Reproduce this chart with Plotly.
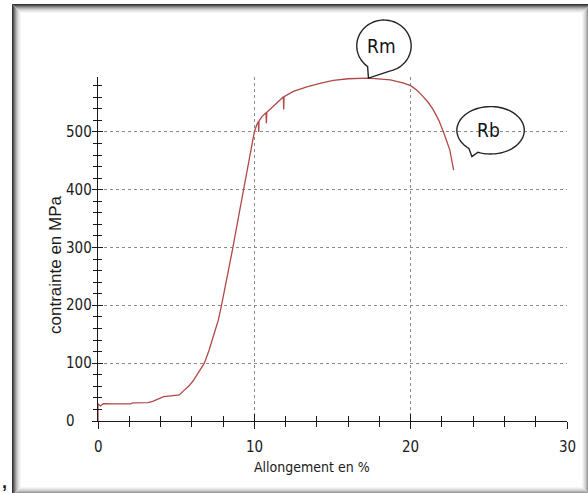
import plotly.graph_objects as go
import numpy as np

# ---- data ----
allongement = [0, 0, 0.15, 0.35, 1.0, 2.1, 2.2, 3.2, 3.5, 3.8, 4.2, 4.8, 5.2, 5.5, 5.8, 6.1,
               6.5, 6.8, 7.1, 7.4, 7.7, 7.9, 8.2, 8.4, 8.6, 8.9, 9.3, 9.5, 9.75, 9.94, 10.0,
               10.15, 10.26, 10.28, 10.3, 10.5, 10.75, 10.77, 10.8, 11.2, 11.5, 11.86, 11.88,
               11.9, 12.5, 13.36, 14.2, 15.05, 16.0, 17.3, 18.7, 19.5, 20.0, 20.4, 20.8,
               21.15, 21.45, 21.8, 22.1, 22.5, 22.75]
contrainte = [0, 30, 26, 30, 29.5, 29.5, 31.5, 31.8, 34, 37, 42, 44, 45, 53, 60, 70,
              86, 100, 122, 148, 175, 200, 240, 267, 296, 340, 400, 430, 463, 489, 500,
              512, 518, 500, 519, 527, 533, 515, 534, 544, 552, 561, 539,
              561, 570, 578, 584, 589, 592, 593, 590, 585, 580, 572, 561,
              550, 538, 520, 500, 469, 434]

x_ticks = [0, 10, 20, 30]
y_ticks = [0, 100, 200, 300, 400, 500]
x_range = [0, 30]
y_range = [0, 595]
x_title = "Allongement en %"
y_title = "contrainte en MPa"
labels = ["Rm", "Rb"]

# ---- layout geometry ----
W, H = 588, 493
L, R, T, B = 98, 21, 77, 72
PW, PH = W - L - R, H - T - B

def px2paper(px, py):
    return (px - L) / PW, (H - B - py) / PH

def data2px(x, y):
    return (L + (x - x_range[0]) / (x_range[1] - x_range[0]) * PW,
            H - B - (y - y_range[0]) / (y_range[1] - y_range[0]) * PH)

NARROW = "Liberation Sans Narrow, DejaVu Sans Condensed, Arial Narrow, sans-serif"
ink = "#1a1a1a"

fig = go.Figure()
fig.add_trace(go.Scatter(x=allongement, y=contrainte, mode="lines",
                         line=dict(color="#b04848", width=1.3),
                         hoverinfo="skip", showlegend=False))
# helper trace for the overlay axes (inside half of the crossing ticks)
fig.add_trace(go.Scatter(x=[None], y=[None], xaxis="x2", yaxis="y2",
                         mode="lines", showlegend=False, hoverinfo="skip"))

axis_common = dict(showline=True, linecolor=ink, linewidth=1, zeroline=False,
                   tickcolor=ink, tickwidth=1, showticklabels=False)

fig.update_layout(
    width=W, height=H,
    margin=dict(l=L, r=R, t=T, b=B),
    paper_bgcolor="white", plot_bgcolor="white",
    xaxis=dict(range=x_range, tickvals=x_ticks, ticks="outside", ticklen=7,
               showgrid=True, gridcolor="#8a8a8a", griddash="dot", gridwidth=1,
               minor=dict(dtick=2, ticks="outside", ticklen=5, tickcolor=ink, showgrid=False),
               **axis_common),
    yaxis=dict(range=y_range, tickvals=y_ticks, ticks="outside", ticklen=5,
               showgrid=True, gridcolor="#8a8a8a", griddash="dot", gridwidth=1,
               minor=dict(dtick=20, ticks="outside", ticklen=4, tickcolor=ink, showgrid=False),
               **axis_common),
    xaxis2=dict(range=x_range, tickvals=x_ticks, ticks="inside", ticklen=7, overlaying="x",
                side="bottom", showgrid=False, showline=False, zeroline=False,
                tickcolor=ink, showticklabels=False,
                minor=dict(dtick=2, ticks="inside", ticklen=5, tickcolor=ink, showgrid=False)),
    yaxis2=dict(range=y_range, tickvals=y_ticks, ticks="inside", ticklen=5, overlaying="y",
                side="left", showgrid=False, showline=False, zeroline=False,
                tickcolor=ink, showticklabels=False,
                minor=dict(dtick=20, ticks="inside", ticklen=4, tickcolor=ink, showgrid=False)),
    showlegend=False,
)

annotations = []
# y tick labels (left aligned as in the reference)
for v in y_ticks:
    annotations.append(dict(x=0, xref="paper", y=v, yref="y", xshift=-34, xanchor="left",
                            yanchor="middle", text=str(v), showarrow=False,
                            font=dict(family=NARROW, size=15, color=ink)))
# x tick labels
for v in x_ticks:
    annotations.append(dict(x=v, xref="x", y=0, yref="paper", yshift=-26, xanchor="center",
                            yanchor="middle", text=str(v), showarrow=False,
                            font=dict(family=NARROW, size=15, color=ink)))
# axis titles
xt, _ = px2paper(312, 0)
annotations.append(dict(x=xt, xref="paper", y=0, yref="paper", yshift=-46, xanchor="center",
                        yanchor="middle", text=x_title, showarrow=False,
                        font=dict(family=NARROW, size=14, color=ink)))
_, yt = px2paper(0, 265)
annotations.append(dict(x=0, xref="paper", y=yt, yref="paper", xshift=-43, xanchor="center",
                        yanchor="middle", text=y_title, textangle=-90, showarrow=False,
                        font=dict(family="Liberation Sans, Arial, sans-serif", size=17, color=ink)))
# stray comma at bottom-left of the original capture
cx, cy = px2paper(4, 482)
annotations.append(dict(x=cx, xref="paper", y=cy, yref="paper", text="<b>,</b>", showarrow=False,
                        xanchor="center", yanchor="middle",
                        font=dict(family="Liberation Sans, Arial", size=18, color=ink)))

shapes = []

def bubble(tip, center, rx, ry, a_start, a_end, text):
    pts = []
    for a in np.linspace(a_start, a_end + 360, 80):
        r = np.radians(a)
        pts.append((center[0] + rx * np.cos(r), center[1] + ry * np.sin(r)))
    pts.append(tip)
    path = ""
    for i, (px, py) in enumerate(pts):
        xp, yp = px2paper(px, py)
        path += ("M" if i == 0 else "L") + f"{xp:.5f},{yp:.5f}"
    path += "Z"
    shapes.append(dict(type="path", path=path, xref="paper", yref="paper",
                       line=dict(color="#222", width=1.4), fillcolor="rgba(0,0,0,0)", layer="above"))
    tx, ty = px2paper(center[0] - 2, center[1])
    annotations.append(dict(x=tx, xref="paper", y=ty, yref="paper", text=text, showarrow=False,
                            xanchor="center", yanchor="middle",
                            font=dict(family=NARROW, size=19, color="#111")))

# Rm: maximum stress
i_max = int(np.argmax(contrainte))
tx, ty = data2px(allongement[i_max], contrainte[i_max])
bubble((tx, ty), (tx + 15.5, ty - 32.3), 27.2, 25.8, 127, 78, labels[0])
# Rb: rupture (last point)
tx, ty = data2px(allongement[-1], contrainte[-1])
tip = (tx + 18.3, ty - 13.4)
bubble(tip, (tip[0] + 18.6, tip[1] - 26.4), 33.7, 23.7, 130, 112, labels[1])

# framed capture border with inset shadow
greys = ["#333333", "#555555", "#7a7a7a", "#9a9a9a", "#b6b6b6", "#cccccc", "#dedede", "#ebebeb", "#f5f5f5"]
for i, g in enumerate(greys):
    x0, y0 = px2paper(12.5 + i, 4.5 + i)
    x1, y1 = px2paper(590.5 - i, 495.5 - i)
    shapes.append(dict(type="rect", xref="paper", yref="paper", x0=x0, y0=y0, x1=x1, y1=y1,
                       line=dict(color=g, width=1), fillcolor="rgba(0,0,0,0)", layer="below"))

fig.update_layout(annotations=annotations, shapes=shapes)
fig.write_html("out.html")
